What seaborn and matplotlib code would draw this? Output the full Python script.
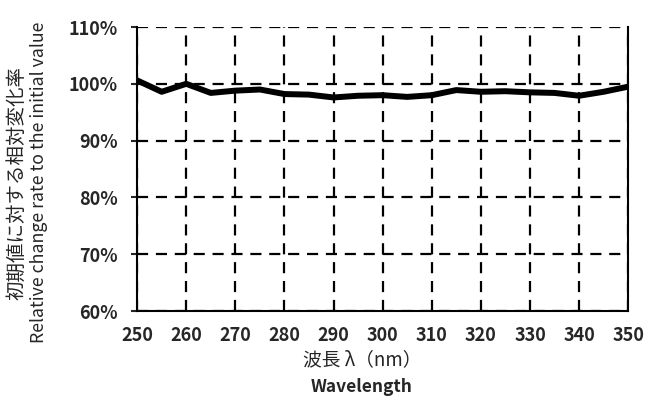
import numpy as np
import pandas as pd
import matplotlib
matplotlib.use("Agg")
import matplotlib.pyplot as plt
from matplotlib.ticker import MultipleLocator, PercentFormatter
import seaborn as sns

# valores
comprimento = [250, 255, 260, 265, 270, 275, 280, 285, 290, 295, 300,
               305, 310, 315, 320, 325, 330, 335, 340, 345, 350]
taxa = [100.6, 98.6, 100.0, 98.4, 98.8, 99.0, 98.2, 98.1, 97.6, 97.9, 98.0,
        97.7, 98.0, 98.9, 98.6, 98.7, 98.5, 98.4, 97.9, 98.6, 99.5]
xticks = list(range(250, 351, 10))
yticks = list(range(60, 111, 10))

df = pd.DataFrame({'nm': comprimento, 'taxa': taxa})

sns.set_style('white')
plt.rcParams['font.family'] = ['Noto Sans CJK JP', 'DejaVu Sans']

fig = plt.figure(figsize=(6.53, 4.03), dpi=100)
ax = fig.add_axes([0.21, 0.228, 0.752, 0.705])

sns.lineplot(data=df, x='nm', y='taxa', color='black', linewidth=4.3, ax=ax)

ax.set_xlim(250, 350)
ax.set_ylim(60, 110)
ax.set_xticks(xticks)
ax.set_yticks(yticks)
ax.xaxis.set_minor_locator(MultipleLocator(2))
ax.yaxis.set_major_formatter(PercentFormatter(decimals=0))

ax.grid(True, which='major', color='black', linestyle=(0, (5, 3.5)), linewidth=1.6)
ax.set_axisbelow(True)
ax.spines['top'].set_visible(False)
for s in ['left', 'bottom', 'right']:
    ax.spines[s].set_color('black')
    ax.spines[s].set_linewidth(1.5)

ax.tick_params(axis='x', which='major', direction='inout', length=7, width=1.5, pad=7)
ax.tick_params(axis='x', which='minor', direction='inout', length=4, width=1)
ax.tick_params(axis='y', which='major', direction='out', length=4, width=1.5, pad=10, left=True)
for lab in ax.get_xticklabels() + ax.get_yticklabels():
    lab.set_fontweight('bold')
    lab.set_fontsize(13)

ax.set_xlabel('')
ax.set_ylabel('')
cx = 0.458
ax.text(cx, -0.135, '波長 λ（nm）', transform=ax.transAxes, ha='center', va='top', fontsize=13.5)
ax.text(cx, -0.235, 'Wavelength', transform=ax.transAxes, ha='center', va='top',
        fontsize=12.5, fontweight='bold')
fig.text(17 / 653, 1 - 183 / 403, '初期値に対する相対変化率', rotation=90,
         ha='center', va='center', fontsize=14)
fig.text(39 / 653, 1 - 182 / 403, 'Relative change rate to the initial value', rotation=90,
         ha='center', va='center', fontsize=12.8)

fig.savefig('out.png', dpi=100)
